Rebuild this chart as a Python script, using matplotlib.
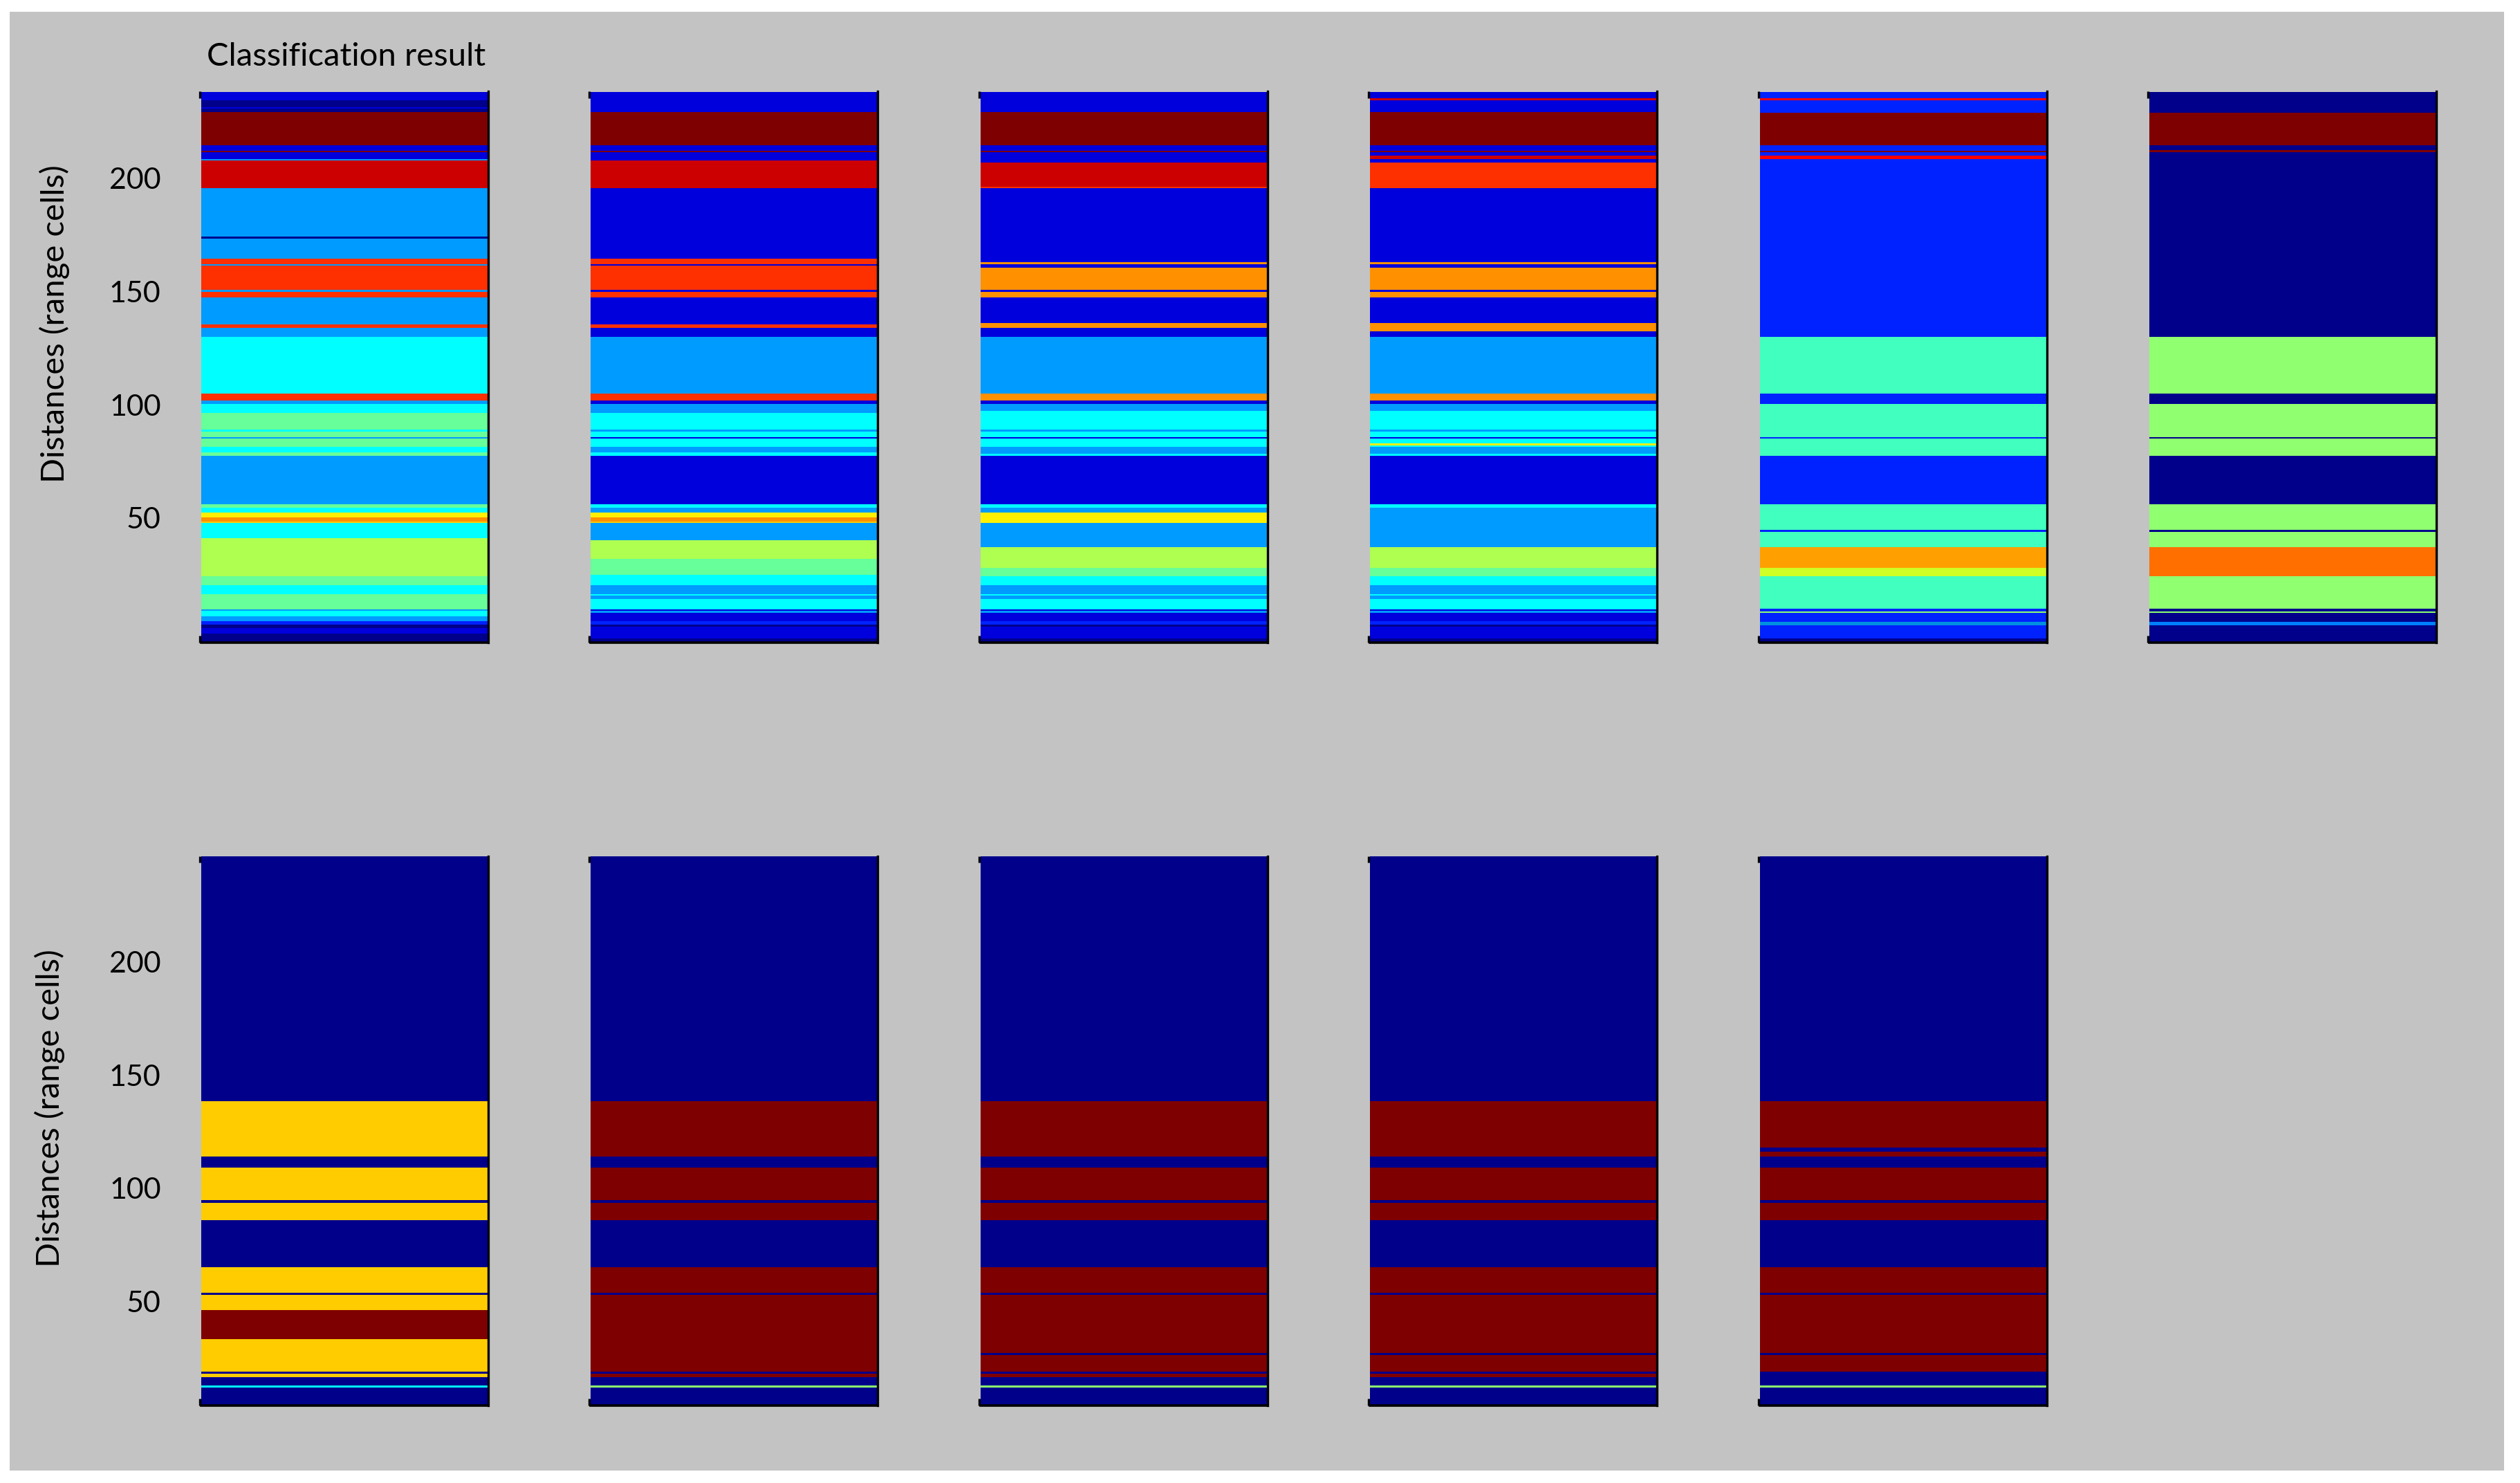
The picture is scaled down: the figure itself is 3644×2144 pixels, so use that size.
import matplotlib
matplotlib.use('Agg')
import numpy as np
import matplotlib.pyplot as plt
from matplotlib.colors import ListedColormap
from matplotlib.patches import Rectangle

# class colours, index = class number
class_colors = ['#00008B', '#0000DC', '#0022FF', '#009BFF', '#00FFFF', '#66FF99',
                '#40FFBF', '#AEFF50', '#90FF70', '#CFFF25', '#FFF000', '#FFCC00',
                '#FF9000', '#FF6F00', '#FFA000', '#FF3000', '#FF0000', '#CC0000',
                '#7F0000', '#0090E0', '#0080FF']
NV, BL, BB, AZ, CY, MT, TL, LM, LG, YG, YL, GD, OR, O2, AM, RO, RD, R2, MR, A2, A3 = range(21)

tick_values = [50, 100, 150, 200]

# range cell edges from top to bottom, and the class between each pair of edges
p1_edges = [238.3, 234.5, 231.4, 230.7, 229.2, 214.6, 212.3, 211.5, 208.6, 207.8, 195.6, 174.2,
            173.5, 164.4, 162.1, 161.3, 150.6, 149.8, 147.5, 135.4, 133.8, 130.1, 104.8, 101.8,
            100.3, 96.5, 88.9, 88.1, 85.8, 85.0, 81.3, 79.0, 77.5, 56.1, 54.5, 52.3, 50.1, 48.5,
            47.7, 41.0, 24.1, 20.3, 16.4, 9.7, 8.9, 6.6, 4.3, 2.8, 1.2, -1.0, -5.1]
p1_class = [BL, NV, BL, NV, MR, BL, MR, BL, AZ, R2, AZ, NV,
            AZ, RO, AZ, RO, AZ, RO, AZ, RO, AZ, CY, RO,
            AZ, CY, MT, CY, MT, AZ, MT, CY, MT, AZ, MT, CY, YL, OR,
            GD, CY, LM, MT, CY, MT, AZ, CY, AZ, BB, NV, BL, NV]

p2_edges = [238.3, 229.2, 214.6, 212.3, 211.5, 207.8, 195.6, 164.4, 162.1, 161.3, 150.6, 149.8,
            147.5, 135.4, 133.8, 130.1, 104.8, 101.8, 100.3, 96.5, 88.9, 88.1, 85.8, 85.0, 81.3,
            79.0, 77.5, 56.1, 54.5, 52.3, 50.1, 48.5, 47.7, 40.2, 31.8, 25.0, 20.3, 16.4, 15.7,
            14.2, 9.7, 8.9, 8.1, 4.3, 2.8, 2.0, -3.4, -5.1]
p2_class = [BL, MR, BL, MR, BL, R2, BL, RO, BL, RO, BL,
            RO, BL, RO, BL, AZ, RO, BL, AZ, CY, AZ, CY, BL, CY,
            AZ, CY, BL, CY, AZ, YL, OR, GD, AZ, LM, MT, CY, AZ, CY,
            AZ, CY, BL, AZ, BL, BB, NV, BL, NV]

p3_edges = [238.3, 229.2, 214.6, 212.3, 211.5, 207.0, 196.4, 195.6, 162.9, 162.1, 160.5, 150.6,
            149.8, 147.5, 136.2, 133.8, 130.1, 104.8, 101.8, 100.3, 97.3, 88.9, 88.1, 85.8, 85.0,
            81.3, 78.2, 77.5, 56.1, 54.5, 52.3, 47.7, 37.1, 27.9, 24.1, 20.3, 16.4, 15.7, 14.2,
            9.7, 8.9, 8.1, 4.3, 2.8, 2.0, -3.4, -5.1]
p3_class = [BL, MR, BL, MR, BL, R2, RO, BL, OR, BL, OR,
            BL, OR, BL, OR, BL, AZ, OR, BL, AZ, CY, AZ, CY, BL,
            CY, AZ, CY, BL, CY, AZ, YL, AZ, LM, MT, CY, AZ, CY, AZ,
            CY, BL, AZ, BL, BB, NV, BL, NV]

p4_edges = [238.3, 235.3, 234.5, 229.2, 214.6, 212.3, 211.5, 210.0, 208.6, 207.0, 195.6, 162.9,
            162.1, 160.5, 150.6, 149.8, 147.5, 136.2, 132.3, 130.1, 104.8, 101.8, 100.3, 97.3,
            88.9, 88.1, 85.8, 85.0, 82.8, 82.1, 81.3, 78.2, 77.5, 56.1, 54.5, 37.1, 27.9, 24.1,
            20.3, 16.4, 15.7, 14.2, 9.7, 8.9, 8.1, 4.3, 2.8, 2.0, -3.4, -5.1]
p4_class = [BL, R2, BL, MR, BL, MR, BL, R2, BL, RO, BL,
            OR, BL, OR, BL, OR, BL, OR, BL, AZ, OR, BL, AZ,
            CY, AZ, CY, BL, CY, YL, CY, AZ, CY, BL, CY, AZ, LM, MT,
            CY, AZ, CY, AZ, CY, BL, AZ, BL, BB, NV, BL, NV]

p5_edges = [238.3, 235.3, 234.4, 229.1, 214.5, 212.3, 211.5, 209.9, 208.4, 129.9, 104.9, 100.4,
            85.8, 85.0, 77.4, 56.1, 44.7, 43.9, 37.0, 27.8, 24.1, 9.8, 8.8, 8.1, 4.1, 2.6, -3.4, -5.1]
p5_class = [BB, RD, BB, MR, BB, MR, BB, RD, BB, TL, BB,
            TL, BB, TL, BB, TL, BB, TL, AM, YG, TL, BB, LG, BB, A2, BB, NV]

p6_edges = [238.3, 229.1, 214.5, 212.5, 211.5, 129.9, 104.9, 100.4, 85.8, 85.0, 77.4, 56.1, 44.7,
            43.9, 37.0, 24.1, 9.8, 8.8, 8.1, 4.1, 2.6, -5.1]
p6_class = [NV, MR, NV, MR, NV, LG, NV, LG, NV, LG, NV, LG,
            NV, LG, O2, LG, NV, LG, NV, A3, NV]

p7_edges = [246.8, 138.6, 114.0, 109.0, 94.9, 93.5, 86.0, 65.2, 53.8, 52.9, 46.3, 33.3, 18.9, 18.0,
            16.4, 12.9, 11.9, 4.0]
p7_class = [NV, GD, NV, GD, NV, GD, NV, GD, NV, GD, MR, GD, NV, GD, NV, CY, NV]

p8_edges = [246.8, 138.6, 114.0, 109.0, 94.9, 93.5, 86.0, 65.2, 53.8, 52.9, 18.9, 18.0, 16.4, 12.9,
            11.9, 4.0]
p8_class = [NV, MR, NV, MR, NV, MR, NV, MR, NV, MR, NV, MR, NV, LG, NV]

p9_edges = [246.8, 138.6, 114.0, 109.0, 94.9, 93.5, 86.0, 65.2, 53.8, 52.9, 27.1, 26.3, 18.9, 18.0,
            16.4, 12.9, 11.9, 4.0]
p9_class = [NV, MR, NV, MR, NV, MR, NV, MR, NV, MR, NV, MR, NV, MR, NV, LG, NV]

p10_edges = p9_edges
p10_class = p9_class

p11_edges = [246.8, 138.6, 117.9, 116.3, 114.0, 109.0, 94.9, 93.5, 86.0, 65.2, 53.8, 52.9, 27.1,
             26.3, 18.9, 12.9, 11.9, 4.0]
p11_class = [NV, MR, NV, MR, NV, MR, NV, MR, NV, MR, NV, MR, NV, MR, NV, LG, NV]

top_panels = [(p1_edges, p1_class), (p2_edges, p2_class), (p3_edges, p3_class),
              (p4_edges, p4_class), (p5_edges, p5_class), (p6_edges, p6_class)]
bottom_panels = [(p7_edges, p7_class), (p8_edges, p8_class), (p9_edges, p9_class),
                 (p10_edges, p10_class), (p11_edges, p11_class)]

W, H = 3644., 2144.
lefts = [291, 854, 1418, 1981, 2545, 3108]
font = 'Lato'
cmap = ListedColormap(class_colors)

fig = plt.figure(figsize=(W / 100, H / 100), dpi=100, facecolor='white')
fig.add_artist(Rectangle((14 / W, 1 - 2126 / H), (3621 - 14) / W, (2126 - 17) / H,
                         transform=fig.transFigure, facecolor='#C3C3C3', edgecolor='none',
                         zorder=-1))


def draw_panel(left, top, bottom, edges, classes, ylim, first, label_x, label_y):
    ax = fig.add_axes([left / W, 1 - bottom / H, 415 / W, (bottom - top) / H])
    ax.patch.set_visible(False)
    y = np.array(edges)
    c = np.array(classes).reshape(-1, 1)
    ax.pcolormesh([0, 1], y, c, cmap=cmap, vmin=-0.5, vmax=len(class_colors) - 0.5,
                  shading='flat', antialiased=False)
    ax.set_xlim(0, 1)
    ax.set_ylim(*ylim)
    ax.set_xticks([])
    ax.spines['top'].set_visible(False)
    ax.spines['left'].set_visible(False)
    ax.spines['right'].set_linewidth(2.4)
    ax.spines['bottom'].set_linewidth(2.6)
    # the short stubs left of the image, top and bottom
    span = ylim[1] - ylim[0]
    for y0, y1 in [(ylim[1], ylim[1] - span * 0.012), (ylim[0], ylim[0] + span * 0.012)]:
        ax.plot([-0.004, -0.004], [y0, y1], color='black', lw=2.4, clip_on=False,
                solid_capstyle='butt')
    if first:
        ax.set_yticks(tick_values)
        ax.set_yticklabels([str(v) for v in tick_values], fontsize=31, family=font)
        ax.tick_params(axis='y', length=0, pad=42)
        ax.set_ylabel('Distances (range cells)', fontsize=34, family=font, va='center')
        ax.yaxis.set_label_coords(label_x, label_y)
    else:
        ax.set_yticks([])
    return ax


for i, (edges, classes) in enumerate(top_panels):
    ax = draw_panel(lefts[i], 132.5, 929, edges, classes, (-5.1, 238.3), i == 0, -0.512, 0.578)
    if i == 0:
        ax.text(0.02, 1.0465, 'Classification result', transform=ax.transAxes, fontsize=34,
                family=font, ha='left', va='baseline')

for i, (edges, classes) in enumerate(bottom_panels):
    draw_panel(lefts[i], 1237.5, 2032, edges, classes, (4.0, 246.8), i == 0, -0.529, 0.5416)

fig.savefig('out.png', dpi=100, facecolor='white')
